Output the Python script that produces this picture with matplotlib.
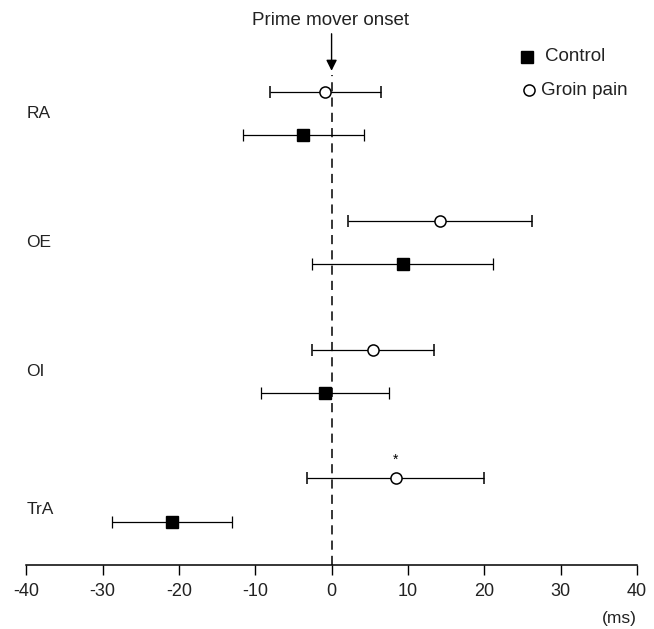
import matplotlib

matplotlib.use("Agg")
import matplotlib.pyplot as plt  # noqa: E402

plt.rcParams["font.family"] = ["Liberation Sans", "DejaVu Sans"]

# muscle groups, top to bottom
muscles = ["RA", "OE", "OI", "TrA"]

# onset relative to prime mover (ms), mean and half-width of error bar
control_mean = [-3.7, 9.3, -0.9, -20.9]
control_err = [7.9, 11.9, 8.4, 7.9]
groin_mean = [-0.8, 14.2, 5.4, 8.4]
groin_err = [7.3, 12.1, 8.0, 11.6]

xticks = [-40, -30, -20, -10, 0, 10, 20, 30, 40]

fig = plt.figure(figsize=(6.54, 6.29), dpi=100)
ax = fig.add_axes([0.040, 0.102, 0.934, 0.82])

ypos = [3 - i for i in range(len(muscles))]
off = 0.17

ax.axvline(0, ymin=0, ymax=0.95, color="black", lw=1.1, ls=(0, (6, 4)), zorder=1)

ax.errorbar(
    groin_mean, [y + off for y in ypos], xerr=groin_err,
    fmt="o", ms=8, mfc="white", mec="black", mew=1.1,
    ecolor="black", elinewidth=0.9, capsize=4.5, capthick=0.9, zorder=3,
)
ax.errorbar(
    control_mean, [y - off for y in ypos], xerr=control_err,
    fmt="s", ms=8, mfc="black", mec="black",
    ecolor="black", elinewidth=0.9, capsize=4.5, capthick=0.9, zorder=3,
)

label_shift = [0, 0, 0, -0.07]
for name, y, dy in zip(muscles, ypos, label_shift):
    ax.text(-40, y + dy, name, fontsize=12.5, ha="left", va="center", color="#222222")

# significance marker on TrA groin pain
ax.text(groin_mean[3], ypos[3] + off + 0.09, "*", fontsize=10, ha="center", va="bottom")

# prime mover onset annotation
ax.annotate(
    "", xy=(0, 3.31), xytext=(0, 3.64),
    arrowprops=dict(arrowstyle="-|>", color="black", lw=1.0, mutation_scale=16),
    annotation_clip=False,
)
ax.text(-0.2, 3.72, "Prime mover onset", fontsize=13.5, ha="center", va="center",
        color="#222222")

# legend drawn by hand like the original
ax.plot([25.6], [3.44], "s", ms=8, color="black", clip_on=False)
ax.text(27.9, 3.44, "Control", fontsize=13.5, va="center", color="#222222")
ax.plot([25.8], [3.18], "o", ms=8, mfc="white", mec="black", mew=1.1, clip_on=False)
ax.text(27.4, 3.18, "Groin pain", fontsize=13.5, va="center", color="#222222")

ax.set_xlim(-40, 40)
ax.set_ylim(-0.5, 3.5)
ax.set_xticks(xticks)
ax.set_xticklabels([str(t) for t in xticks], fontsize=13, color="#222222")
ax.set_yticks([])
for side in ("top", "right", "left"):
    ax.spines[side].set_visible(False)
ax.spines["bottom"].set_linewidth(1.1)
ax.tick_params(axis="x", direction="out", length=7, width=1.0, pad=6)

ax.text(1.0, -0.09, "(ms)", transform=ax.transAxes, fontsize=12.5, ha="right",
        va="top", color="#222222")

fig.savefig("out.png", dpi=100)
